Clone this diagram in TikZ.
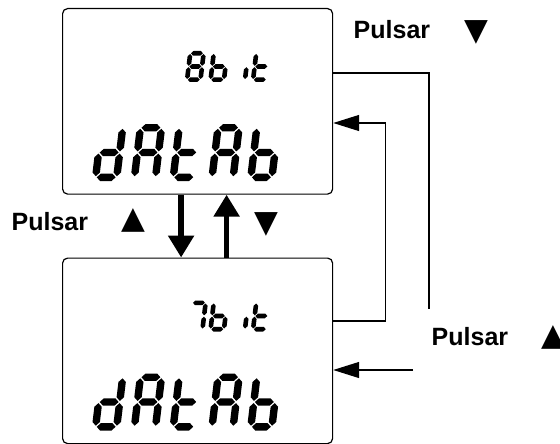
\documentclass[tikz,border=0pt]{standalone}
\usepackage{fontspec}
\setmainfont{Liberation Sans}
\newfontfamily\symfont{DejaVu Sans}
\usetikzlibrary{arrows.meta}

% seven-segment helpers
\newcommand{\hseg}[1]{%
  \fill ({\sT/2+\sG},{#1}) -- ({\sT+\sG},{#1+\sT/2}) -- ({\sW-\sT-\sG},{#1+\sT/2}) -- ({\sW-\sT/2-\sG},{#1}) -- ({\sW-\sT-\sG},{#1-\sT/2}) -- ({\sT+\sG},{#1-\sT/2}) -- cycle;}
\newcommand{\vseg}[3]{%
  \fill ({#1},{#2}) -- ({#1+\sT/2},{#2+\sT/2}) -- ({#1+\sT/2},{#3-\sT/2}) -- ({#1},{#3}) -- ({#1-\sT/2},{#3-\sT/2}) -- ({#1-\sT/2},{#2+\sT/2}) -- cycle;}
\newcommand{\segA}{\hseg{\sH-\sT/2}}
\newcommand{\segG}{\hseg{\sH/2}}
\newcommand{\segD}{\hseg{\sT/2}}
\newcommand{\segB}{\vseg{\sW-\sT/2}{\sH/2+\sG}{\sH-\sT/2-\sG}}
\newcommand{\segC}{\vseg{\sW-\sT/2}{\sT/2+\sG}{\sH/2-\sG}}
\newcommand{\segE}{\vseg{\sT/2}{\sT/2+\sG}{\sH/2-\sG}}
\newcommand{\segF}{\vseg{\sT/2}{\sH/2+\sG}{\sH-\sT/2-\sG}}
% #1 x, #2 y bottom, #3 W, #4 H, #5 T, #6 gap, #7 segments
\newcommand{\lcdchar}[7]{%
  \begin{scope}[shift={(#1,#2)},x=1pt,y=1pt,xslant=0.12]
    \def\sW{#3}\def\sH{#4}\def\sT{#5}\def\sG{#6}%
    #7
  \end{scope}}
\newcommand{\bigch}[3]{\lcdchar{#1}{#2}{28.5}{57}{7.4}{1.1}{#3}}
\newcommand{\smallch}[3]{\lcdchar{#1}{#2}{18}{31}{4.6}{0.7}{#3}}

\begin{document}
\begin{tikzpicture}[x=1pt,y=-1pt,
  lcdbox/.style={draw, line width=1.2pt, rounded corners=5pt, minimum width=270pt, minimum height=185.5pt, anchor=north west, inner sep=0pt},
  bigarrow/.style={line width=5.5pt, -{Triangle[length=22pt,width=25pt]}},
  conn/.style={line width=1.3pt},
  connarrow/.style={conn, -{Triangle[length=26pt,width=16pt]}},
  lbl/.style={font=\bfseries\fontsize{25}{25}\selectfont, anchor=base west, inner sep=0pt},
  tri/.style={font=\symfont\fontsize{31}{31}\selectfont, inner sep=0pt, anchor=center}]
\useasboundingbox (0,0) rectangle (560,444);

\node[lcdbox] (top) at (62,8) {};
\node[lcdbox] (bot) at (62,257.5) {};

% top display: 8b it / dAtAb
\smallch{184.5}{82}{\segA\segB\segC\segD\segE\segF\segG}
\smallch{208}{82}{\segC\segD\segE\segF\segG}
\smallch{229}{82}{\segC}
\smallch{250.5}{82}{\segD\segE\segF\segG}
\bigch{91.5}{181}{\segB\segC\segD\segE\segG}
\bigch{130.3}{181}{\segA\segB\segC\segE\segF\segG}
\bigch{169.1}{181}{\segD\segE\segF\segG}
\bigch{207.9}{181}{\segA\segB\segC\segE\segF\segG}
\bigch{246.7}{181}{\segC\segD\segE\segF\segG}

% bottom display: 7b it / dAtAb
\smallch{186.5}{331.5}{\segA\segB\segC}
\smallch{208}{331.5}{\segC\segD\segE\segF\segG}
\smallch{229}{331.5}{\segC}
\smallch{250.5}{331.5}{\segD\segE\segF\segG}
\bigch{91.5}{430.5}{\segB\segC\segD\segE\segG}
\bigch{130.3}{430.5}{\segA\segB\segC\segE\segF\segG}
\bigch{169.1}{430.5}{\segD\segE\segF\segG}
\bigch{207.9}{430.5}{\segA\segB\segC\segE\segF\segG}
\bigch{246.7}{430.5}{\segC\segD\segE\segF\segG}

% thick arrows between displays
\draw[bigarrow] ([xshift=-16.5pt]top.south) -- ([xshift=-16.5pt]bot.north);
\draw[bigarrow] ([xshift=29pt]bot.north) -- ([xshift=29pt]top.south);

% right-hand connectors
\coordinate (r1) at (429,309);
\coordinate (r2) at (413,370);
\draw[conn] ([yshift=-65pt]top.north east) -| (r1);
\draw[connarrow] ([yshift=-63.5pt]bot.north east) -- ++(52,0) |- ([yshift=-115pt]top.north east);
\draw[connarrow] (r2) -- (bot.east |- r2);

% labels
\node[lbl] (l1) at (11.5,230) {Pulsar};
\node[tri] (t1) at (133.5,220) {▲};
\node[tri] (t2) at (266,224) {▼};
\node[lbl] (l2) at (353.5,39) {Pulsar};
\node[tri] (t3) at (476.5,32.5) {▼};
\node[lbl] (l3) at (431.5,345) {Pulsar};
\node[tri] (t4) at (553,337.5) {▲};
\end{tikzpicture}
\end{document}
